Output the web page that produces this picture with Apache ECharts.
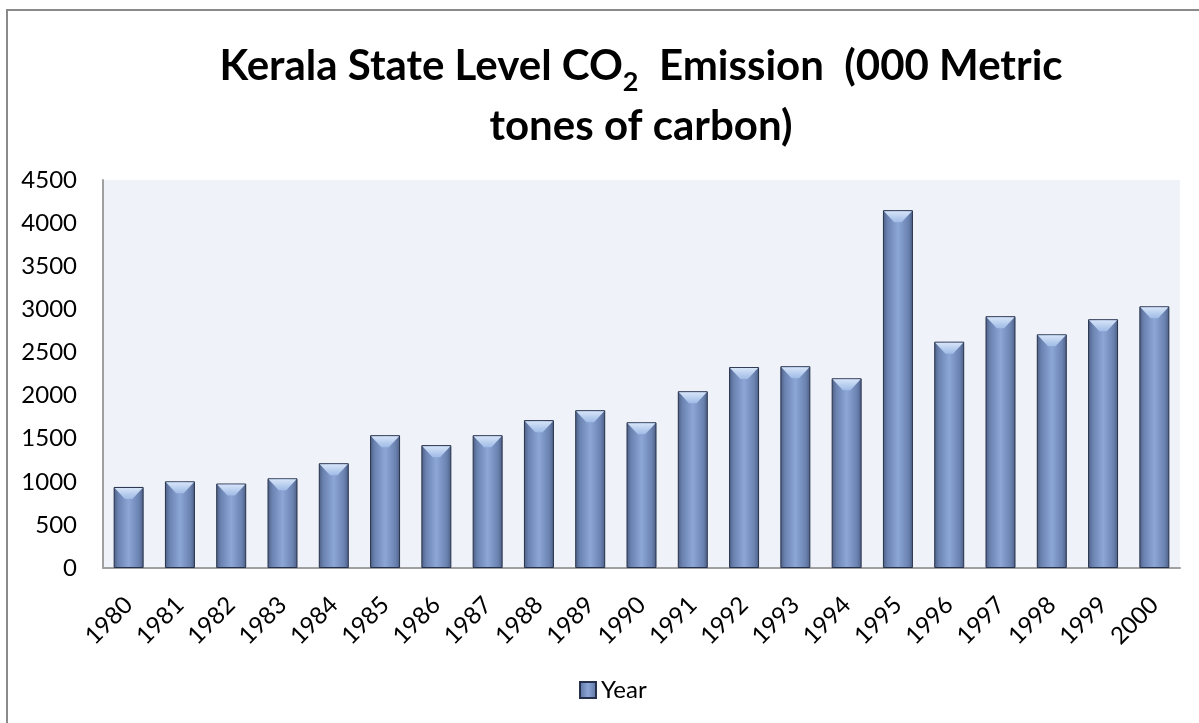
<!DOCTYPE html>
<html>
<head>
<meta charset="utf-8">
<script src="https://cdn.jsdelivr.net/npm/echarts@6/dist/echarts.min.js"></script>
<style>
  html, body { margin: 0; padding: 0; background: #fff; }
  #chart { width: 1199px; height: 723px; }
</style>
</head>
<body>
<div id="chart"></div>
<script>
var years = ['1980', '1981', '1982', '1983', '1984', '1985', '1986', '1987', '1988', '1989', '1990',
  '1991', '1992', '1993', '1994', '1995', '1996', '1997', '1998', '1999', '2000'];
var emission = [940, 1005, 980, 1040, 1215, 1540, 1425, 1540, 1715, 1830, 1690,
  2050, 2330, 2340, 2200, 4150, 2625, 2920, 2710, 2885, 3035];

var chart = echarts.init(document.getElementById('chart'));
var font = 'Lato';

var barFill = new echarts.graphic.LinearGradient(0, 0, 1, 0, [
  { offset: 0, color: '#4c5d82' },
  { offset: 0.15, color: '#6a82b0' },
  { offset: 0.5, color: '#8ca6d6' },
  { offset: 0.85, color: '#6a82b0' },
  { offset: 1, color: '#4c5d82' }
]);

chart.setOption({
  animation: false,
  backgroundColor: '#fff',
  graphic: [{
    type: 'rect',
    shape: { x: 7, y: 10, width: 1300, height: 800 },
    style: { fill: 'none', stroke: '#8a8a8a', lineWidth: 2 },
    silent: true
  }],
  title: {
    text: '{a|Kerala State Level CO}{sub|2}{a|  Emission  (000 Metric}\n{a|tones of carbon)}',
    left: 636,
    textAlign: 'center',
    top: 31,
    textStyle: {
      rich: {
        a: { fontFamily: font, fontWeight: 'bold', fontSize: 42, color: '#000', lineHeight: 60 },
        sub: { fontFamily: font, fontWeight: 'bold', fontSize: 27, color: '#000', lineHeight: 30, verticalAlign: 'bottom' }
      }
    }
  },
  legend: {
    data: ['Year'],
    left: 574,
    top: 673,
    icon: 'rect',
    itemWidth: 16,
    itemHeight: 16,
    itemGap: 6,
    textStyle: { fontFamily: font, fontSize: 24, color: '#000' }
  },
  grid: {
    left: 103,
    right: 19,
    top: 180,
    bottom: 155,
    show: true,
    backgroundColor: '#eff3f9',
    borderWidth: 0
  },
  xAxis: {
    type: 'category',
    data: years,
    axisTick: { show: false },
    axisLine: { lineStyle: { color: '#a0a0a0', width: 2 } },
    axisLabel: {
      rotate: 45,
      margin: 33,
      fontFamily: font,
      fontSize: 24,
      color: '#000'
    }
  },
  yAxis: {
    type: 'value',
    min: 0,
    max: 4500,
    interval: 500,
    splitLine: { show: false },
    axisTick: { show: false },
    axisLine: { show: true, lineStyle: { color: '#a0a0a0', width: 2 } },
    axisLabel: {
      margin: 26,
      fontFamily: font,
      fontSize: 24,
      color: '#000',
      formatter: function (v) { return String(v); }
    }
  },
  series: [
    {
      name: 'Year',
      type: 'bar',
      data: emission,
      barWidth: 30,
      barGap: '-100%',
      itemStyle: {
        color: barFill,
        borderColor: '#26314b',
        borderWidth: 1
      }
    },
    {
      name: 'bevel',
      type: 'pictorialBar',
      data: emission,
      barGap: '-100%',
      barWidth: 30,
      symbol: 'path://M0,0 L30,0 L19,10 L11,10 Z',
      symbolSize: [28, 11],
      symbolPosition: 'end',
      symbolOffset: [0, 1],
      silent: true,
      z: 3,
      itemStyle: {
        color: new echarts.graphic.LinearGradient(0, 0, 0, 1, [
          { offset: 0, color: '#d6e4f8' },
          { offset: 1, color: '#9fbbe6' }
        ])
      }
    }
  ]
});
</script>
</body>
</html>
